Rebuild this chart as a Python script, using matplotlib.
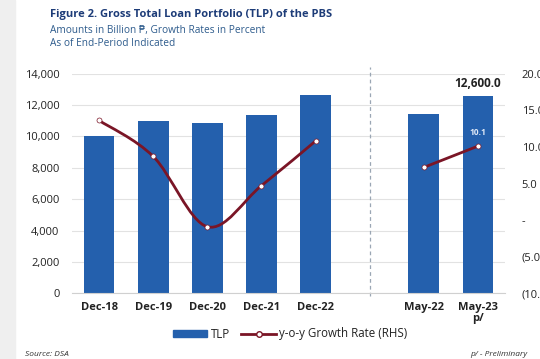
import numpy as np
import matplotlib.pyplot as plt
from matplotlib.path import Path
from matplotlib.patches import PathPatch, Rectangle
from matplotlib.lines import Line2D

# data
labels = ["Dec-18", "Dec-19", "Dec-20", "Dec-21", "Dec-22", "May-22", "May-23\np/"]
pos = [0, 1, 2, 3, 4, 6, 7]
tlp = [10050, 10960, 10870, 11380, 12620, 11430, 12600]
growth = [13.6, 8.7, -0.9, 4.7, 10.8, 7.2, 10.1]
left_ticks = [0, 2000, 4000, 6000, 8000, 10000, 12000, 14000]
right_ticks = [-10, -5, 0, 5, 10, 15, 20]
right_labels = ["(10.0)", "(5.0)", "-", "5.0", "10.0", "15.0", "20.0"]

bar_col = "#2460ad"
line_col = "#7a1526"
txt_col = "#222222"

plt.rcParams['font.family'] = ['Open Sans', 'DejaVu Sans']

fig = plt.figure(figsize=(5.4, 3.59), dpi=100)
fig.patch.set_facecolor("white")
fig.patches.append(Rectangle((0, 0), 15 / 540, 1, transform=fig.transFigure,
                             color="#efefef", zorder=0))

ax = fig.add_axes([72 / 540, 65.6 / 359, 433 / 540, 219.8 / 359])
ax.bar(pos, tlp, width=0.57, color=bar_col, zorder=2)
ax.set_xlim(-0.5, 7.5)
ax.set_ylim(0, 14000)
ax.set_yticks(left_ticks)
ax.set_yticklabels([f"{v:,}" for v in left_ticks], fontsize=8, color=txt_col)
ax.set_xticks(pos)
ax.set_xticklabels(labels, fontsize=8, fontweight="bold", color=txt_col,
                   linespacing=1.0)
ax.tick_params(axis="both", length=0)
ax.tick_params(axis="y", pad=9)
ax.tick_params(axis="x", pad=6)
ax.grid(axis="y", color="#e2e2e2", linewidth=0.8, zorder=0)
ax.set_axisbelow(True)
for s in ["top", "right", "left"]:
    ax.spines[s].set_visible(False)
ax.spines["bottom"].set_color("#d0d0d0")

# separator between annual and monthly data
ax.axvline(5, ymin=-0.01, ymax=1.03, color="#9aa6b4", linestyle=(0, (3, 2.5)),
           linewidth=0.9, clip_on=False, zorder=1)

ax.text(pos[-1], tlp[-1] + 350, f"{tlp[-1]:,.1f}", ha="center", va="bottom",
        fontsize=8.5, fontweight="bold", color=txt_col)

ax2 = ax.twinx()
ax2.set_ylim(-10, 20)
ax2.set_yticks(right_ticks)
ax2.set_yticklabels(right_labels, fontsize=8, color=txt_col)
ax2.tick_params(axis="y", length=0, pad=12)
for s in ax2.spines.values():
    s.set_visible(False)

# smoothed line for the annual series (Catmull-Rom drawn as Bezier)
xs = pos[:5]
ys = growth[:5]
pts = np.column_stack([xs, ys])
verts = [tuple(pts[0])]
codes = [Path.MOVETO]
for i in range(len(pts) - 1):
    p0 = pts[max(i - 1, 0)]
    p1 = pts[i]
    p2 = pts[i + 1]
    p3 = pts[min(i + 2, len(pts) - 1)]
    c1 = p1 + (p2 - p0) / 6
    c2 = p2 - (p3 - p1) / 6
    verts += [tuple(c1), tuple(c2), tuple(p2)]
    codes += [Path.CURVE4] * 3
ax2.add_patch(PathPatch(Path(verts, codes), facecolor="none", edgecolor=line_col,
                        linewidth=2.0, zorder=3))
ax2.plot(xs, ys, linestyle="none", marker="o", markersize=3.6,
         markerfacecolor="white", markeredgecolor=line_col,
         markeredgewidth=0.5, zorder=4)
ax2.plot(pos[5:], growth[5:], color=line_col, linewidth=2.0, marker="o",
         markersize=3.6, markerfacecolor="white", markeredgecolor=line_col,
         markeredgewidth=0.5, zorder=4)
ax2.text(pos[-1], growth[-1] + 1.3, f"{growth[-1]:.1f}", ha="center",
         va="bottom", fontsize=6, fontweight="bold", color="#dfe9f7")

# legend
handles = [Rectangle((0, 0), 1, 1, color=bar_col),
           Line2D([], [], color=line_col, linewidth=2, marker="o", markersize=4,
                  markerfacecolor="white", markeredgecolor=line_col)]
fig.legend(handles, ["TLP", "y-o-y Growth Rate (RHS)"], loc="center",
           bbox_to_anchor=(290 / 540, 1 - 334 / 359), ncol=2, frameon=False,
           fontsize=8.3, handlelength=3.0, handleheight=0.6, columnspacing=1.0,
           handletextpad=0.3, labelcolor=txt_col)

# titles
fig.text(50 / 540, 1 - 14 / 359, "Figure 2. Gross Total Loan Portfolio (TLP) of the PBS",
         fontsize=8, fontweight="bold", color="#1d3c78", va="center")
fig.text(50 / 540, 1 - 30 / 359, "Amounts in Billion ₱, Growth Rates in Percent",
         fontsize=7.3, color="#2d5b8c", va="center")
fig.text(50 / 540, 1 - 43 / 359, "As of End-Period Indicated",
         fontsize=7.3, color="#2d5b8c", va="center")

fig.text(25 / 540, 1 - 354 / 359, "Source: DSA", fontsize=6, style="italic",
         color="#333333", va="center")
fig.text(470 / 540, 1 - 354 / 359, "p/ - Preliminary", fontsize=6, style="italic",
         color="#333333", va="center")

fig.savefig("out.png", dpi=100)
